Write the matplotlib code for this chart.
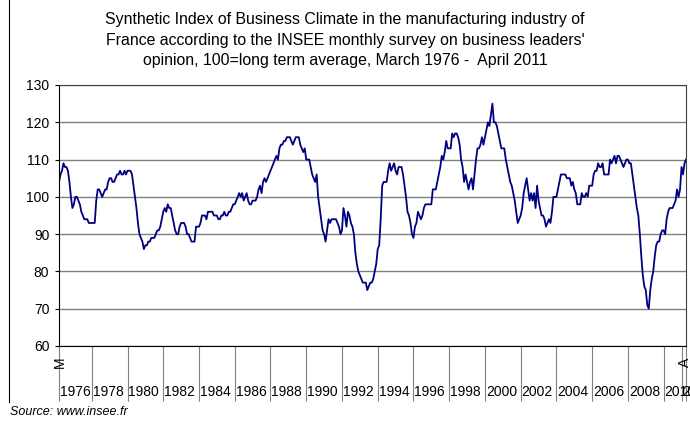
import matplotlib.pyplot as plt
import matplotlib.transforms as mtransforms

plt.rcParams['font.family'] = ['Liberation Sans', 'DejaVu Sans']

# monthly index values, March 1976 to April 2011 (one row per year)
y1976 = [104, 106, 107, 109, 108, 108, 107, 104, 100, 97]
y1977 = [98, 100, 100, 99, 98, 96, 95, 94, 94, 94, 93, 93]
y1978 = [93, 93, 93, 99, 102, 102, 101, 100, 101, 102, 102, 104]
y1979 = [105, 105, 104, 104, 105, 106, 106, 107, 106, 106, 107, 106]
y1980 = [107, 107, 107, 106, 103, 100, 97, 93, 90, 89, 88, 86]
y1981 = [87, 87, 88, 88, 89, 89, 89, 90, 91, 91, 92, 94]
y1982 = [96, 97, 96, 98, 97, 97, 95, 93, 91, 90, 90, 92]
y1983 = [93, 93, 93, 92, 90, 90, 89, 88, 88, 88, 92, 92]
y1984 = [92, 93, 95, 95, 95, 94, 96, 96, 96, 96, 95, 95]
y1985 = [95, 94, 94, 95, 95, 96, 95, 95, 96, 96, 97, 98]
y1986 = [98, 99, 100, 101, 100, 101, 99, 100, 101, 99, 98, 98]
y1987 = [99, 99, 99, 100, 102, 103, 101, 104, 105, 104, 105, 106]
y1988 = [107, 108, 109, 110, 111, 110, 113, 114, 114, 115, 115, 116]
y1989 = [116, 116, 115, 114, 115, 116, 116, 116, 114, 113, 112, 113]
y1990 = [110, 110, 110, 108, 106, 105, 104, 106, 100, 97, 94, 91]
y1991 = [90, 88, 91, 94, 93, 94, 94, 94, 94, 93, 92, 90]
y1992 = [91, 97, 95, 92, 96, 95, 93, 92, 90, 85, 82, 80]
y1993 = [79, 78, 77, 77, 77, 75, 76, 77, 77, 78, 80, 82]
y1994 = [86, 87, 94, 103, 104, 104, 104, 107, 109, 107, 108, 109]
y1995 = [107, 106, 108, 108, 108, 106, 103, 100, 96, 95, 93, 90]
y1996 = [89, 92, 93, 96, 95, 94, 95, 97, 98, 98, 98, 98]
y1997 = [98, 102, 102, 102, 104, 106, 108, 111, 110, 112, 115, 113]
y1998 = [113, 113, 117, 116, 117, 117, 116, 114, 110, 108, 104, 106]
y1999 = [104, 102, 104, 105, 102, 106, 110, 113, 113, 114, 116, 114]
y2000 = [116, 118, 120, 119, 122, 125, 120, 120, 119, 117, 115, 113]
y2001 = [113, 113, 110, 108, 106, 104, 103, 101, 99, 96, 93, 94]
y2002 = [95, 97, 101, 103, 105, 102, 99, 101, 99, 101, 97, 103]
y2003 = [99, 97, 95, 95, 94, 92, 93, 94, 93, 96, 100, 100]
y2004 = [100, 102, 104, 106, 106, 106, 106, 105, 105, 105, 103, 104]
y2005 = [102, 101, 98, 98, 98, 101, 100, 100, 101, 100, 103, 103]
y2006 = [103, 106, 107, 107, 109, 108, 108, 109, 106, 106, 106, 106]
y2007 = [110, 109, 110, 111, 109, 111, 111, 110, 109, 108, 109, 110]
y2008 = [110, 109, 109, 106, 103, 100, 97, 95, 90, 84, 79, 76]
y2009 = [75, 71, 70, 75, 78, 80, 84, 87, 88, 88, 90, 91]
y2010 = [91, 90, 94, 96, 97, 97, 97, 98, 99, 102, 100, 102]
y2011 = [108, 106, 109, 110]

years = [y1976, y1977, y1978, y1979, y1980, y1981, y1982, y1983, y1984,
         y1985, y1986, y1987, y1988, y1989, y1990, y1991, y1992, y1993,
         y1994, y1995, y1996, y1997, y1998, y1999, y2000, y2001, y2002,
         y2003, y2004, y2005, y2006, y2007, y2008, y2009, y2010, y2011]

# category groups on the x axis (label, first month index)
group_labels = ['1976', '1978', '1980', '1982', '1984', '1986', '1988', '1990',
                '1992', '1994', '1996', '1998', '2000', '2002', '2004', '2006',
                '2008', '2010', '2011']
group_starts = [0, 22, 46, 70, 94, 118, 142, 166, 190, 214, 238, 262, 286,
                310, 334, 358, 382, 406, 418]

title = ("Synthetic Index of Business Climate in the manufacturing industry of\n"
         "France according to the INSEE monthly survey on business leaders'\n"
         "opinion, 100=long term average, March 1976 -  April 2011")

values = [v for yr in years for v in yr]
months = list(range(len(values)))
last = len(values) - 1

fig = plt.figure(figsize=(6.9, 4.21), dpi=100)
ax = fig.add_axes([59 / 690, 1 - 346 / 421, 627 / 690, 261 / 421])

ax.plot(months, values, color='#000080', lw=1.3)

ax.set_xlim(0, last)
ax.set_ylim(60, 130)
ax.set_yticks(range(60, 131, 10))
ax.tick_params(axis='y', length=3, width=0.8, labelsize=10, pad=4)
ax.grid(axis='y', color='#808080', lw=1)

# separators between category groups
ax.set_xticks(group_starts + [last])
ax.set_xticklabels([])
ax.tick_params(axis='x', length=39.6, width=0.8, color='#808080')

for s in ['left', 'bottom']:
    ax.spines[s].set_color('black')
for s in ['top', 'right']:
    ax.spines[s].set_color('#404040')

trans = mtransforms.blended_transform_factory(ax.transData, ax.transAxes)
for lab, start in zip(group_labels, group_starts):
    ax.text(start + 0.6, -0.176, lab, transform=trans, ha='left', va='center',
            fontsize=10)
ax.text(0.5, -0.064, 'M', transform=trans, ha='center', va='center',
        rotation=90, fontsize=10)
ax.text(last - 1, -0.064, 'A', transform=trans, ha='center', va='center',
        rotation=90, fontsize=10)

fig.text(0.5, 1 - 40 / 421, title, ha='center', va='center', fontsize=11.4,
         linespacing=1.45)
fig.text(10 / 690, 1 - 412 / 421, 'Source: www.insee.fr', ha='left',
         va='center', fontsize=9, style='italic')
fig.add_artist(plt.Line2D([9 / 690, 9 / 690], [1 - 402 / 421, 1],
                          color='black', lw=0.8))

fig.savefig('out.png', dpi=100)
